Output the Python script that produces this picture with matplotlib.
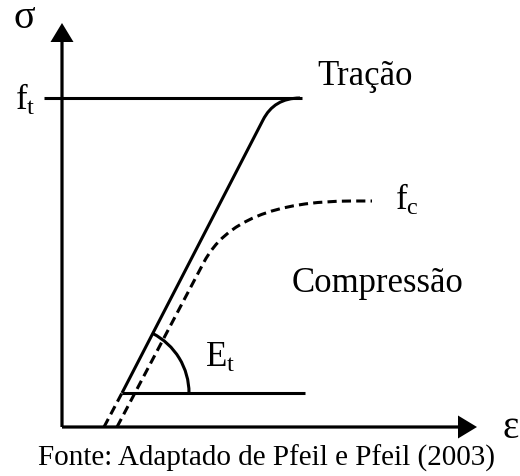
import numpy as np
import matplotlib
matplotlib.use("Agg")
import matplotlib.pyplot as plt
from matplotlib.path import Path
from matplotlib.patches import PathPatch, Arc

plt.rcParams.update({"font.family": "Liberation Serif",
                     "mathtext.fontset": "custom",
                     "mathtext.rm": "Liberation Serif",
                     "mathtext.it": "Liberation Serif:italic"})

# diagram coordinates: origin at the axes corner, 1 unit = 1 pixel
SIGMA_TOP = 404          # tip of the stress axis
EPS_END = 415            # tip of the strain axis
FT = 329                 # tensile strength level
FT_LINE_X = [-18, 240]

# tension branch (solid) and its dashed extension to the strain axis
TRAC_EXT_X = [42, 60]
TRAC_EXT_Y = [0, 34]
TRAC_X = [60, 201, 212, 238]
TRAC_Y = [34, 307, 329, 329]

# compression branch (dashed)
COMP_X = [55, 142, 174, 290, 310]
COMP_Y = [0, 165, 226, 226, 226]

# modulus marker
ET_BASE_X = [60, 243]
ET_BASE_Y = [34, 34]
ET_RADIUS = 67

TITLE = "Figura 2 – Diagrama tensão-deformação do concreto para compressão e tração"
TITLE_PREFIX = "Figura 2 – Diagrama tensão-deforma"
SOURCE = "Fonte: Adaptado de Pfeil e Pfeil (2003)"

LW = 2.2
fig = plt.figure(figsize=(5.2, 4.76), dpi=100)
ax = fig.add_axes([0, 0, 1, 1])
ax.set_xlim(-62, 458)
ax.set_ylim(-49, 427)
ax.axis("off")

# axes arrows
ax.arrow(0, 0, 0, SIGMA_TOP, width=3.2, head_width=23, head_length=19,
         length_includes_head=True, color="black", lw=0)
ax.arrow(0, 0, EPS_END, 0, width=3.2, head_width=23, head_length=19,
         length_includes_head=True, color="black", lw=0)

# f_t line
ax.plot(FT_LINE_X, [FT, FT], color="black", lw=LW, solid_capstyle="butt")

# tension curve
ax.plot(TRAC_EXT_X, TRAC_EXT_Y, color="black", lw=LW, ls=(0, (3, 1.7)))
trac = Path(list(zip(TRAC_X, TRAC_Y)),
            [Path.MOVETO, Path.LINETO, Path.CURVE3, Path.CURVE3])
ax.add_patch(PathPatch(trac, fill=False, lw=LW, ec="black"))

# compression curve
comp = Path(list(zip(COMP_X, COMP_Y)),
            [Path.MOVETO, Path.LINETO, Path.CURVE3, Path.CURVE3, Path.LINETO])
ax.add_patch(PathPatch(comp, fill=False, lw=LW, ec="black", ls=(0, (3, 1.7))))

# modulus E_t
ax.plot(ET_BASE_X, ET_BASE_Y, color="black", lw=LW, solid_capstyle="butt")
ang = np.degrees(np.arctan2(TRAC_Y[1] - TRAC_Y[0], TRAC_X[1] - TRAC_X[0]))
ax.add_patch(Arc((ET_BASE_X[0], ET_BASE_Y[0]), 2 * ET_RADIUS, 2 * ET_RADIUS,
                 theta1=0, theta2=ang, lw=LW, color="black"))

# labels
ax.text(-38, 408, "σ", fontsize=29, ha="center", va="center")
ax.text(449, -1, "ε", fontsize=28, ha="center", va="center")
ax.text(-37, 327, r"$\mathrm{f}_{\mathrm{t}}$", fontsize=25, ha="center", va="center")
ax.text(345, 227, r"$\mathrm{f}_{\mathrm{c}}$", fontsize=25, ha="center", va="center")
ax.text(158, 69, r"$\mathrm{E}_{\mathrm{t}}$", fontsize=25, ha="center", va="center")
ax.text(303, 342, "Tração", fontsize=25, ha="center", va="baseline")
ax.text(316, 135, "Compressão", fontsize=25, ha="center", va="baseline")
ax.text(204, -39, SOURCE, fontsize=21, ha="center", va="baseline")

# title, mostly above the visible area (only descenders show)
r = fig.canvas.get_renderer()
tmp = ax.text(0, 0, TITLE_PREFIX, fontsize=19, fontweight="bold")
w = tmp.get_window_extent(r).width
tmp.remove()
ax.text(-62 + 33 - w, 433, TITLE, fontsize=19, fontweight="bold",
        va="baseline", ha="left", clip_on=False)

fig.savefig("out.png", dpi=100)
